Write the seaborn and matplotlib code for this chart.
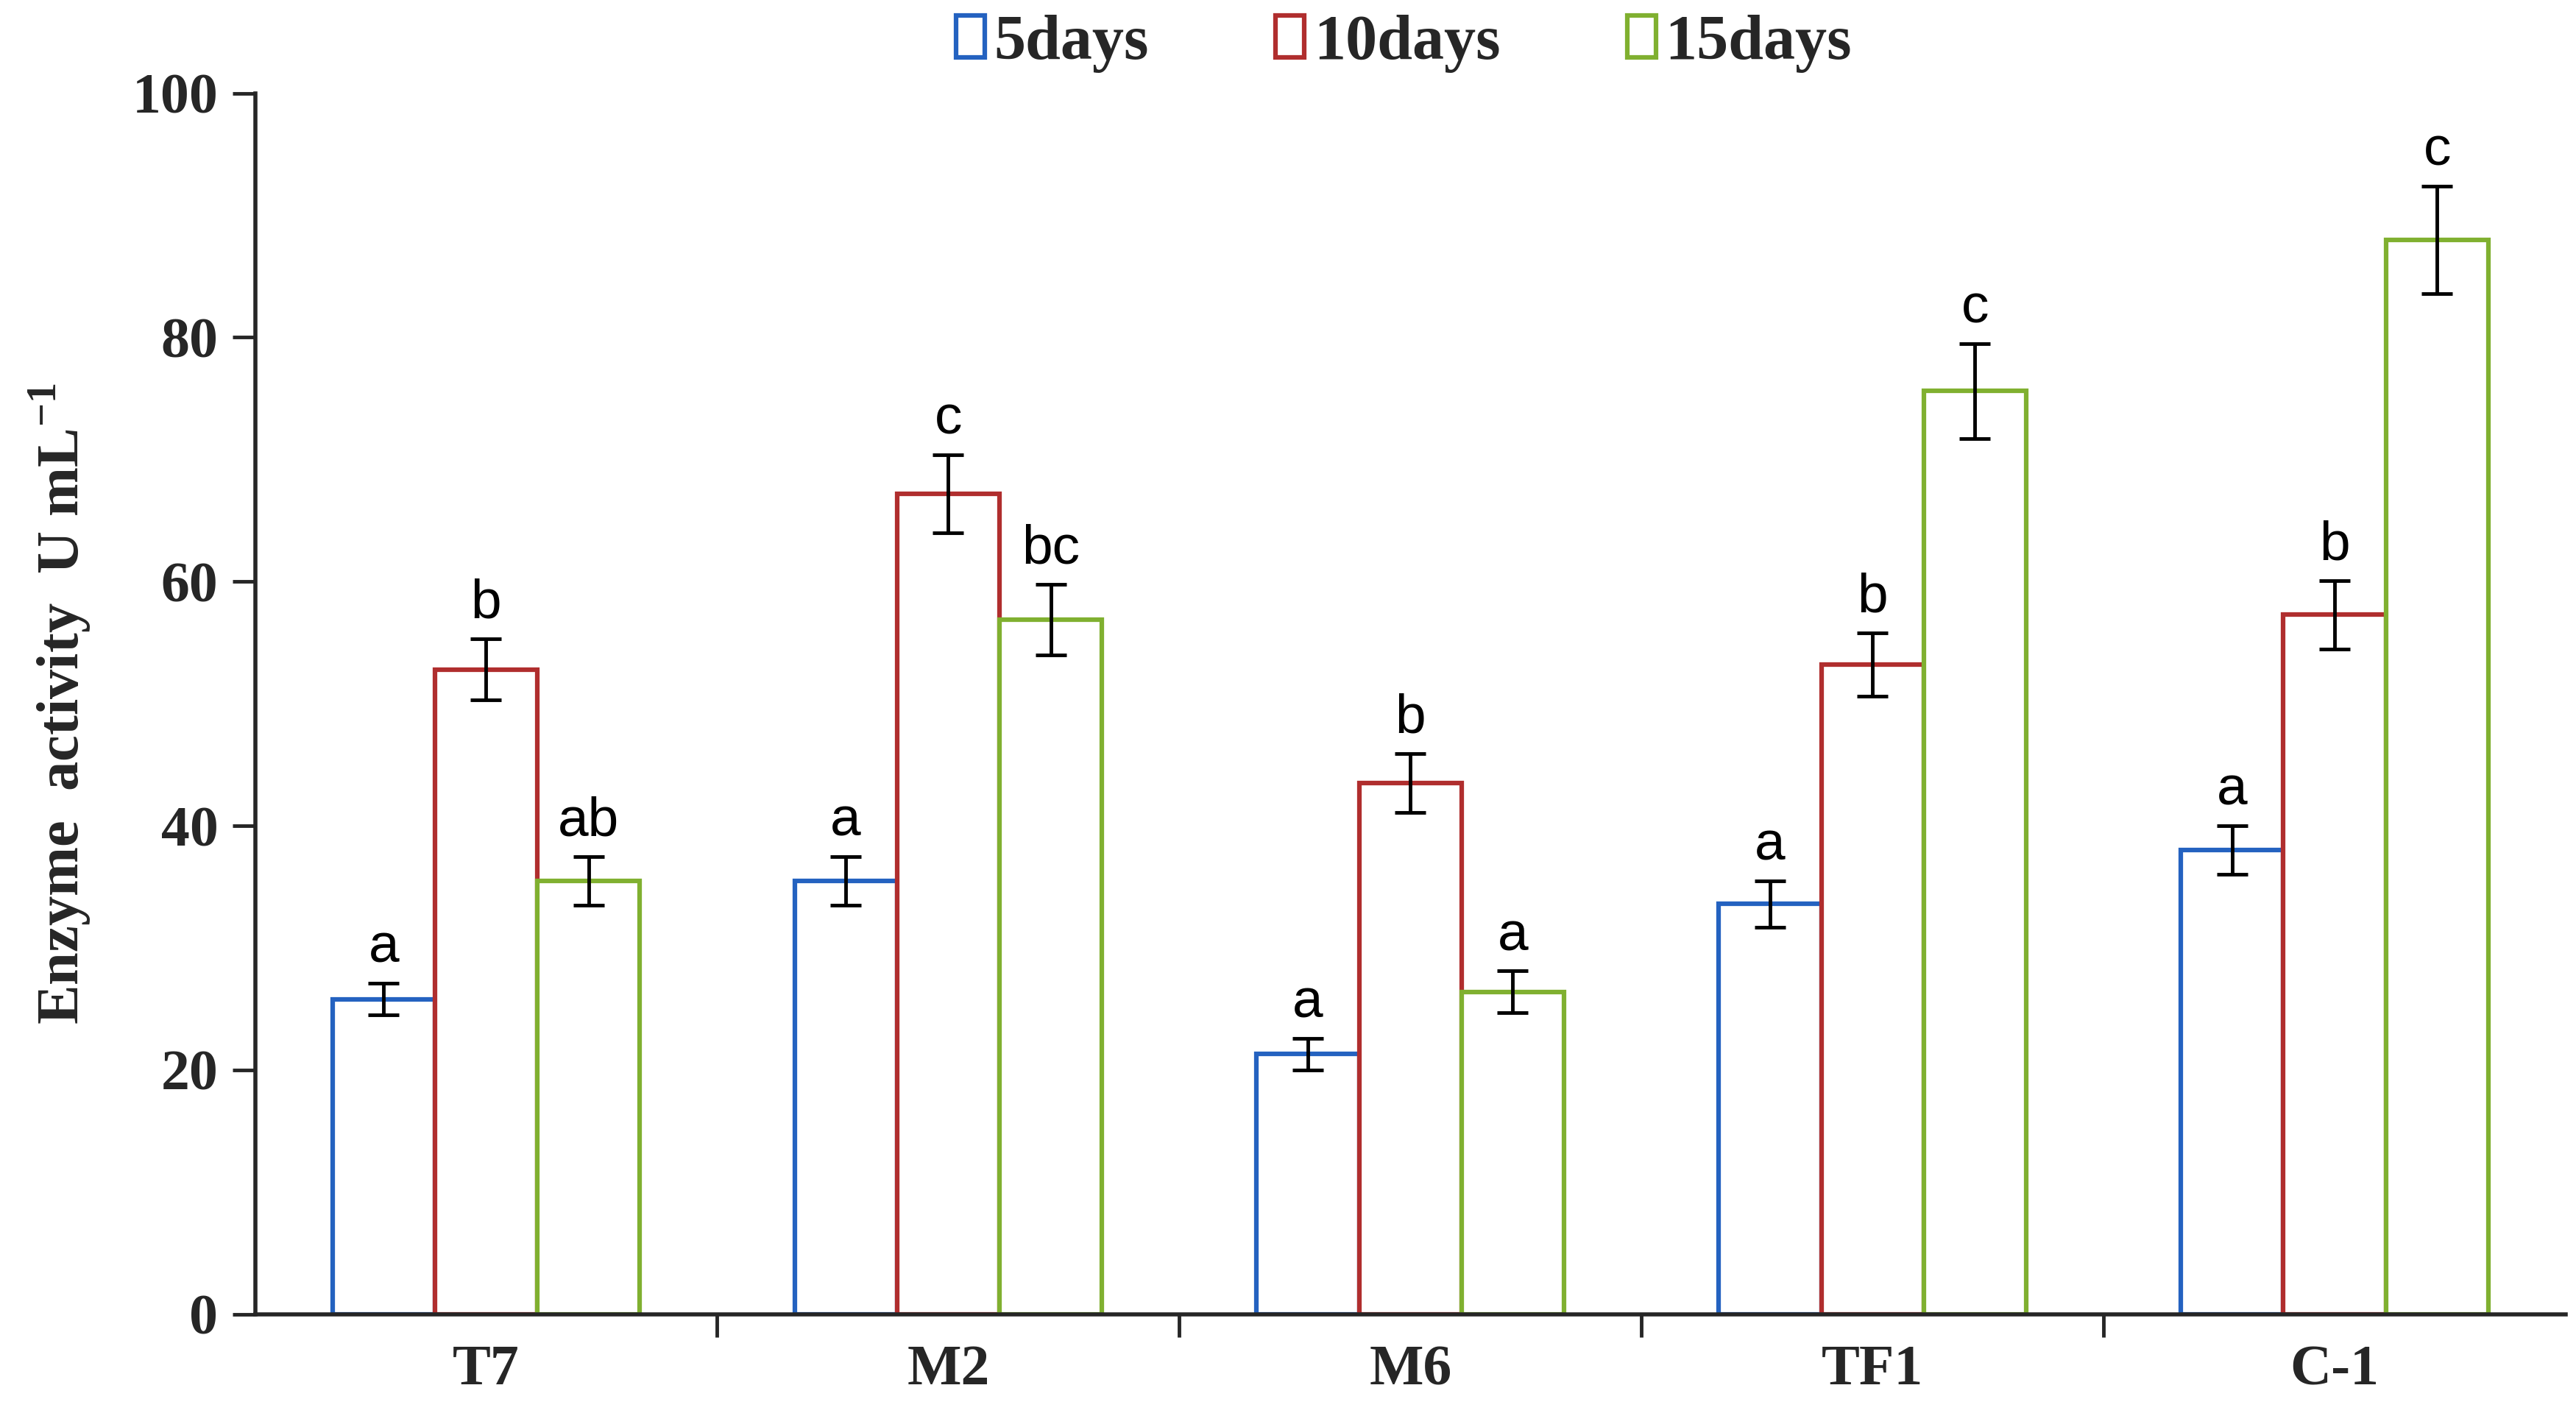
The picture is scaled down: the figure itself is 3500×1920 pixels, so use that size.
import matplotlib
matplotlib.use("Agg")
import matplotlib.pyplot as plt
import matplotlib.patches as mpatches
import seaborn as sns
import pandas as pd

# data
strains = ["T7", "M2", "M6", "TF1", "C-1"]
periods = ["5days", "10days", "15days"]
activity_5d = [25.8, 35.5, 21.3, 33.6, 38.0]
activity_10d = [52.8, 67.2, 43.5, 53.2, 57.3]
activity_15d = [35.5, 56.9, 26.4, 75.6, 88.0]
err_5d = [1.3, 2.0, 1.3, 1.9, 2.0]
err_10d = [2.5, 3.2, 2.4, 2.6, 2.8]
err_15d = [2.0, 2.9, 1.7, 3.9, 4.4]
letters_5d = ["a", "a", "a", "a", "a"]
letters_10d = ["b", "c", "b", "b", "b"]
letters_15d = ["ab", "bc", "a", "c", "c"]

colors = ["#2462C0", "#B02E2E", "#80B030"]

rows = []
for period, vals, errs, labs in zip(periods,
                                    [activity_5d, activity_10d, activity_15d],
                                    [err_5d, err_10d, err_15d],
                                    [letters_5d, letters_10d, letters_15d]):
    for s, v, e, l in zip(strains, vals, errs, labs):
        rows.append({"strain": s, "period": period, "activity": v, "err": e, "letter": l})
df = pd.DataFrame(rows)

sns.set_style("ticks")
plt.rcParams["mathtext.fontset"] = "custom"
plt.rcParams["mathtext.bf"] = "Liberation Serif:bold"
plt.rcParams["mathtext.rm"] = "Liberation Serif:bold"
serif = ["Liberation Serif", "DejaVu Serif"]
sans = ["Liberation Sans", "DejaVu Sans"]

fig = plt.figure(figsize=(35, 19.2), dpi=100)
ax = fig.add_axes([0.099, 0.070, 0.897, 0.864])

sns.barplot(data=df, x="strain", y="activity", hue="period", order=strains,
            hue_order=periods, palette=colors, width=0.665, gap=0,
            errorbar=None, legend=False, ax=ax, zorder=2)

for cont, period, col in zip(ax.containers, periods, colors):
    sub = df[df["period"] == period].set_index("strain").loc[strains]
    for bar, (_, r) in zip(cont, sub.iterrows()):
        bar.set_facecolor("white")
        bar.set_edgecolor(col)
        bar.set_linewidth(4.5)
        cx = bar.get_x() + bar.get_width() / 2
        ax.errorbar(cx, r["activity"], yerr=r["err"], fmt="none", ecolor="black",
                    elinewidth=3.5, capsize=15, capthick=3.5, zorder=3)
        ax.text(cx, r["activity"] + r["err"] + 0.8, r["letter"], ha="center",
                va="bottom", fontsize=54, family=sans, color="black")

ax.set_xlim(-0.5, 4.5)
ax.set_ylim(0, 100)
ax.set_yticks([0, 20, 40, 60, 80, 100])
ax.set_xticks(range(len(strains)))
ax.set_xticklabels(strains)
ax.set_xticks([i + 0.5 for i in range(len(strains) - 1)], minor=True)
ax.tick_params(axis="x", which="major", length=0, pad=30)
ax.tick_params(axis="x", which="minor", length=22, width=3.5, direction="out")
ax.tick_params(axis="y", length=22, width=3.5, direction="out", pad=14)
for lab in ax.get_xticklabels() + ax.get_yticklabels():
    lab.set_family(serif)
    lab.set_fontweight("bold")
    lab.set_fontsize(56)

for side in ["top", "right"]:
    ax.spines[side].set_visible(False)
for side in ["left", "bottom"]:
    ax.spines[side].set_linewidth(4)
    ax.spines[side].set_zorder(4)

ax.set_xlabel("")
ax.set_ylabel("Enzyme  activity  U mL$^{\\mathbf{-1}}$", family=serif,
              fontweight="bold", fontsize=58, labelpad=38)

handles = [mpatches.Patch(facecolor="white", edgecolor=c, linewidth=4.5, label=p)
           for c, p in zip(colors, periods)]
leg = fig.legend(handles=handles, loc="upper center", bbox_to_anchor=(0.545, 1.03),
                 ncol=3, frameon=False, handlelength=0.45, handleheight=0.65,
                 handletextpad=0.15, columnspacing=2.0,
                 prop={"family": serif, "weight": "bold", "size": 62})

fig.savefig("out.png", dpi=100, facecolor="white")
